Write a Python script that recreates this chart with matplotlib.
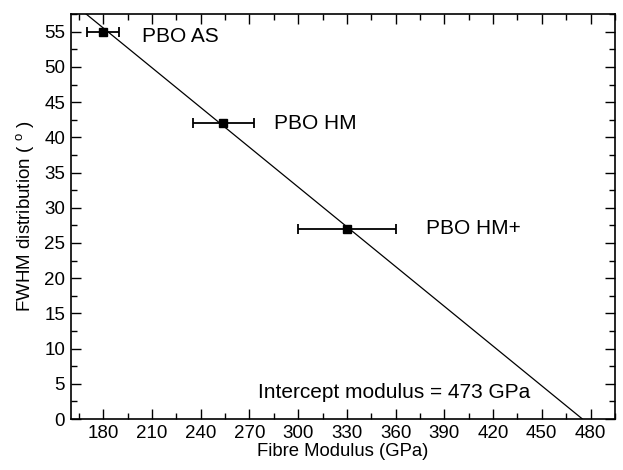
from matplotlib import pyplot as plt
from matplotlib.ticker import MultipleLocator

plt.rcParams['font.family'] = ['Liberation Sans', 'DejaVu Sans']
plt.rcParams['mathtext.fontset'] = 'custom'
plt.rcParams['mathtext.rm'] = 'Liberation Sans'

# data
labels = ['PBO AS', 'PBO HM', 'PBO HM+']
modulus = [180, 254, 330]
modulus_err = [10, 19, 30]
fwhm = [55, 42, 27]
label_x = [204, 285, 379]
label_y = [54.3, 42.0, 27.1]

# linear fit
fit_x = [160, 475]
fit_y = [59.3, 0]


def draw():
    fig = plt.figure(figsize=(6.23, 4.70), dpi=100)
    ax = fig.add_axes([0.1135, 0.1085, 0.8735, 0.8615])

    ax.plot(fit_x, fit_y, color='black', lw=0.9)
    ax.errorbar(modulus, fwhm, xerr=modulus_err, fmt='s', color='black',
                ms=6, elinewidth=1.3, capsize=3.5, capthick=1.3)

    for name, tx, ty in zip(labels, label_x, label_y):
        ax.text(tx, ty, name, fontsize=15, va='center', ha='left')
    ax.text(275.5, 3.7, 'Intercept modulus = 473 GPa', fontsize=15,
            va='center', ha='left')

    ax.set_xlim(160, 495)
    ax.set_ylim(0, 57.5)
    ax.xaxis.set_major_locator(MultipleLocator(30))
    ax.xaxis.set_minor_locator(MultipleLocator(15))
    ax.yaxis.set_major_locator(MultipleLocator(5))
    ax.yaxis.set_minor_locator(MultipleLocator(2.5))
    ax.tick_params(which='both', direction='in', top=True, right=True,
                   labelsize=13.5, width=1)
    ax.tick_params(which='major', length=7, pad=4)
    ax.tick_params(which='minor', length=4)
    for s in ax.spines.values():
        s.set_linewidth(1.2)

    ax.set_xlabel('Fibre Modulus (GPa)', fontsize=13.3, labelpad=1)
    ax.set_ylabel(r'FWHM distribution ( $^{\mathrm{o}}$ )', fontsize=13.5,
                  labelpad=5)

    fig.savefig('out.png', dpi=100)


if __name__ == '__main__':
    draw()
